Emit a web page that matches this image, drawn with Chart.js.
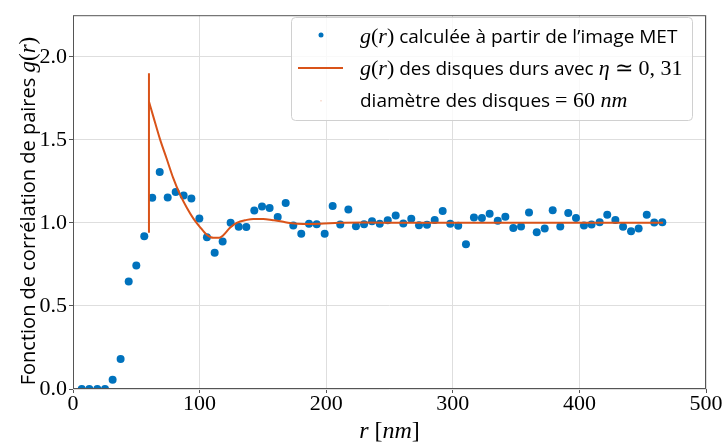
<!DOCTYPE html>
<html>
<head>
<meta charset="utf-8">
<script src="https://cdn.jsdelivr.net/npm/chart.js@4.4.1/dist/chart.umd.min.js"></script>
<style>
  html, body { margin: 0; padding: 0; background: #ffffff; }
  #wrap { width: 722px; height: 446px; position: relative; }
</style>
</head>
<body>
<div id="wrap"><canvas id="gChart"></canvas></div>
<script>
// g(r) mesurée (points bleus)
const rMeasured = [6.9, 12.9, 19.2, 25.3, 31.3, 37.6, 44.0, 50.0, 56.3, 62.6,
    68.5, 74.8, 81.1, 87.4, 93.5, 99.8, 105.8, 111.9, 118.2, 124.5,
    130.9, 136.9, 143.2, 149.3, 155.3, 161.7, 168.0, 174.0, 180.3, 186.4,
    192.5, 198.8, 205.1, 211.1, 217.5, 223.5, 229.9, 236.2, 242.3, 248.6,
    254.9, 260.9, 267.2, 273.3, 279.6, 285.7, 292.0, 298.0, 304.3, 310.4,
    316.7, 323.0, 329.1, 335.5, 341.5, 347.8, 353.9, 360.2, 366.3, 372.6,
    378.9, 384.9, 391.2, 397.3, 403.6, 409.6, 416.0, 422.0, 428.4, 434.5,
    440.8, 446.8, 453.2, 459.1, 465.5];
const gMeasured = [0, 0, 0, 0, 0.055, 0.18, 0.647, 0.743, 0.92, 1.151,
    1.306, 1.152, 1.186, 1.165, 1.147, 1.027, 0.914, 0.82, 0.888, 1.0,
    0.976, 0.975, 1.075, 1.098, 1.089, 1.036, 1.12, 0.984, 0.935, 0.994,
    0.992, 0.935, 1.102, 0.99, 1.08, 0.98, 0.992, 1.01, 0.994, 1.016,
    1.045, 0.996, 1.025, 0.986, 0.988, 1.018, 1.072, 0.994, 0.982, 0.872,
    1.033, 1.029, 1.055, 1.012, 1.037, 0.969, 0.978, 1.063, 0.943, 0.966,
    1.076, 0.978, 1.059, 1.029, 0.984, 0.99, 1.004, 1.049, 1.018, 0.976,
    0.949, 0.966, 1.049, 1.002, 1.004];

// g(r) théorique des disques durs (courbe orange)
const rTheory = [60, 63.4, 68.7, 74, 79.2, 84.5, 89.8, 95, 100.3, 105.6,
    110.8, 115.6, 118.7, 124, 129.3, 137.2, 142.4, 150.3, 158, 165,
    171.4, 181.9, 195, 210, 230, 260, 300, 350, 400, 466];
const gTheory = [1.73, 1.641, 1.504, 1.386, 1.269, 1.171, 1.092, 1.027, 0.975, 0.929,
    0.91, 0.91, 0.925, 0.97, 1.0, 1.018, 1.024, 1.024, 1.016, 1.008,
    0.999, 0.993, 0.994, 1.0, 1.002, 1.0, 1.0, 1.0, 1.0, 1.0];

// trait vertical au contact r = diamètre
const rContact = [60, 60];
const gContact = [0.94, 1.9];

const xTicks = [0, 100, 200, 300, 400, 500];
const yTicks = [0, 0.5, 1.0, 1.5, 2.0];

const BLUE = '#0072BD';
const ORANGE = '#D95319';
const SANS = '"Open Sans", sans-serif';
const SERIF = '"Liberation Serif", serif';

function toPoints(xs, ys) {
    return xs.map((x, i) => ({ x: x, y: ys[i] }));
}

// écrit une suite de morceaux de texte avec des polices différentes
function drawRich(ctx, parts, x, y) {
    parts.forEach(p => {
        ctx.font = p.f;
        ctx.fillText(p.t, x, y);
        x += ctx.measureText(p.t).width;
    });
    return x;
}
function richWidth(ctx, parts) {
    let w = 0;
    parts.forEach(p => { ctx.font = p.f; w += ctx.measureText(p.t).width; });
    return w;
}

function gr(size) {
    return [
        { t: 'g', f: `italic ${size}px ${SERIF}` },
        { t: '(', f: `${size}px ${SERIF}` },
        { t: 'r', f: `italic ${size}px ${SERIF}` },
        { t: ')', f: `${size}px ${SERIF}` }
    ];
}

const decorPlugin = {
    id: 'decor',
    afterDraw(chart) {
        const ctx = chart.ctx;
        const a = chart.chartArea;
        ctx.save();

        // cadre
        ctx.strokeStyle = '#555555';
        ctx.lineWidth = 1;
        ctx.strokeRect(a.left + 0.5, a.top + 0.5, a.right - a.left - 1, a.bottom - a.top - 1);

        ctx.fillStyle = '#000000';
        ctx.textBaseline = 'alphabetic';

        // titre axe x
        const xt = [
            { t: 'r', f: `italic 24px ${SERIF}` },
            { t: ' [', f: `24px ${SERIF}` },
            { t: 'nm', f: `italic 24px ${SERIF}` },
            { t: ']', f: `24px ${SERIF}` }
        ];
        const xw = richWidth(ctx, xt);
        drawRich(ctx, xt, (a.left + a.right) / 2 - xw / 2, 438);

        // titre axe y
        const yt = [{ t: 'Fonction de corrélation de paires ', f: `20px ${SANS}` }].concat(gr(23));
        const yw = richWidth(ctx, yt);
        ctx.save();
        ctx.translate(35, 211);
        ctx.rotate(-Math.PI / 2);
        drawRich(ctx, yt, -yw / 2, 0);
        ctx.restore();

        // légende
        const lx = 291, ly = 17, lw = 401, lh = 103;
        ctx.fillStyle = 'rgba(255,255,255,0.8)';
        ctx.strokeStyle = '#d0d0d0';
        ctx.beginPath();
        ctx.roundRect(lx + 0.5, ly + 0.5, lw, lh, 4);
        ctx.fill();
        ctx.stroke();

        ctx.fillStyle = BLUE;
        ctx.beginPath();
        ctx.arc(321, 35, 2.5, 0, Math.PI * 2);
        ctx.fill();

        ctx.strokeStyle = ORANGE;
        ctx.lineWidth = 2;
        ctx.beginPath();
        ctx.moveTo(298, 68);
        ctx.lineTo(343, 68);
        ctx.stroke();

        ctx.fillStyle = 'rgba(217,83,25,0.35)';
        ctx.fillRect(320.5, 100, 1, 1.5);

        ctx.fillStyle = '#000000';
        const row1 = gr(22).concat([{ t: ' calculée à partir de l’image MET', f: `19px ${SANS}` }]);
        const row2 = gr(22).concat([
            { t: ' des disques durs avec ', f: `19px ${SANS}` },
            { t: 'η', f: `italic 22px ${SERIF}` },
            { t: ' ≃ 0, 31', f: `22px ${SERIF}` }
        ]);
        const row3 = [
            { t: 'diamètre des disques ', f: `19px ${SANS}` },
            { t: '= 60 ', f: `22px ${SERIF}` },
            { t: 'nm', f: `italic 22px ${SERIF}` }
        ];
        drawRich(ctx, row1, 360, 43);
        drawRich(ctx, row2, 360, 75);
        drawRich(ctx, row3, 360, 107);

        ctx.restore();
    }
};

new Chart(document.getElementById('gChart').getContext('2d'), {
    type: 'scatter',
    data: {
        datasets: [
            {
                label: 'diamètre',
                data: toPoints(rContact, gContact),
                showLine: true,
                borderColor: ORANGE,
                borderWidth: 2,
                pointRadius: 0,
                tension: 0
            },
            {
                label: 'disques durs',
                data: toPoints(rTheory, gTheory),
                showLine: true,
                borderColor: ORANGE,
                borderWidth: 2,
                pointRadius: 0,
                cubicInterpolationMode: 'monotone'
            },
            {
                label: 'MET',
                data: toPoints(rMeasured, gMeasured),
                backgroundColor: BLUE,
                borderWidth: 0,
                pointRadius: 4,
                pointHoverRadius: 4
            }
        ]
    },
    options: {
        responsive: true,
        maintainAspectRatio: false,
        animation: false,
        layout: { padding: { top: 6, right: 16, left: 0, bottom: 0 } },
        plugins: {
            legend: { display: false },
            tooltip: { enabled: false }
        },
        scales: {
            x: {
                type: 'linear',
                min: 0,
                max: 500,
                afterFit: (scale) => { scale.height = 57; },
                afterBuildTicks: (scale) => { scale.ticks = xTicks.map(v => ({ value: v })); },
                grid: { color: '#dedede', lineWidth: 1, tickColor: '#555555', tickLength: 4 },
                border: { display: false },
                ticks: {
                    color: '#000000',
                    padding: -2,
                    maxRotation: 0,
                    font: { family: SERIF, size: 22 },
                    callback: (v) => String(v)
                }
            },
            y: {
                type: 'linear',
                min: 0,
                max: 2.25,
                afterFit: (scale) => { scale.width = 73; },
                afterBuildTicks: (scale) => { scale.ticks = yTicks.map(v => ({ value: v })); },
                grid: { color: '#dedede', lineWidth: 1, tickColor: '#555555', tickLength: 4 },
                border: { display: false },
                ticks: {
                    color: '#000000',
                    padding: 2,
                    font: { family: SERIF, size: 22 },
                    callback: (v) => Number(v).toFixed(1)
                }
            }
        }
    },
    plugins: [decorPlugin]
});
</script>
</body>
</html>
